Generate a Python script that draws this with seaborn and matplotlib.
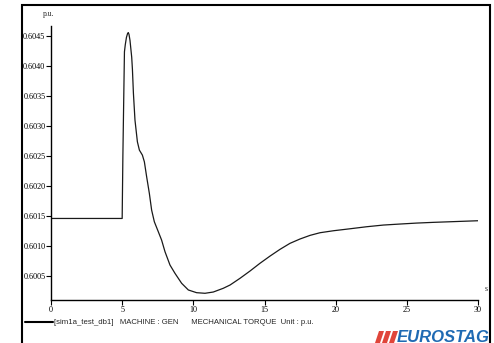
import matplotlib
matplotlib.use("Agg")
import matplotlib.pyplot as plt
import matplotlib.patches as mpatches
import seaborn as sns
import pandas as pd

# values (time in s, torque in p.u.)
time_s = [0, 5.0, 5.05, 5.1, 5.16, 5.22, 5.3, 5.38, 5.43, 5.48, 5.55, 5.67,
          5.72, 5.79, 5.9, 6.07, 6.21, 6.42, 6.56, 6.72, 6.91, 7.07, 7.26,
          7.54, 7.77, 8.01, 8.36, 8.71, 9.18, 9.65, 10.23, 10.82, 11.4, 12.1,
          12.58, 13.28, 13.98, 14.68, 15.39, 16.09, 16.79, 17.49, 18.2, 18.9,
          19.84, 21.01, 22.18, 23.35, 24.52, 25.69, 26.86, 28.03, 30]
torque = [0.60146, 0.60146, 0.60250, 0.60330, 0.60424, 0.60436, 0.60448,
          0.604545, 0.60456, 0.60453, 0.60443, 0.60415, 0.60395, 0.60355,
          0.60310, 0.602738, 0.60260, 0.602517, 0.602405, 0.602155, 0.601878,
          0.60160, 0.601405, 0.601238, 0.60110, 0.600905, 0.600683, 0.600545,
          0.600378, 0.600267, 0.600222, 0.600212, 0.600233, 0.600295,
          0.60035, 0.600462, 0.600583, 0.600712, 0.600833, 0.600945,
          0.601045, 0.601117, 0.601178, 0.601222, 0.601255, 0.601288,
          0.601322, 0.60135, 0.601367, 0.601383, 0.601395, 0.601405, 0.601422]
yticks = [0.6005, 0.6010, 0.6015, 0.6020, 0.6025, 0.6030, 0.6035, 0.6040, 0.6045]
xticks = [0, 5, 10, 15, 20, 25, 30]

df = pd.DataFrame({"t": time_s, "v": torque})

sns.set_style("white")
plt.rcParams["font.family"] = ["Liberation Serif", "DejaVu Serif"]

W, H = 494, 343
fig = plt.figure(figsize=(W / 100, H / 100), dpi=100)
ax = fig.add_axes([51 / W, 1 - 300 / H, 427 / W, 274 / H])

sns.lineplot(data=df, x="t", y="v", ax=ax, color="#1a1a1a", linewidth=0.9,
             sort=False, estimator=None)

ax.set_xlim(0, 30)
ax.set_ylim(0.60010, 0.60467)
ax.set_xticks(xticks)
ax.set_xticklabels([str(x) for x in xticks])
ax.set_yticks(yticks)
ax.set_yticklabels([f"{y:.4f}" for y in yticks])
ax.set_xlabel("")
ax.set_ylabel("")
ax.tick_params(axis="both", labelsize=5.9, length=3.5, width=0.8, pad=0.5,
               colors="black", direction="out")
ax.tick_params(left=True, bottom=True)
for side in ["top", "right"]:
    ax.spines[side].set_visible(False)
for side in ["left", "bottom"]:
    ax.spines[side].set_color("black")
    ax.spines[side].set_linewidth(1.0)

fig.text(43 / W, 1 - 14 / H, "p.u.", fontsize=5.5, ha="left", va="center")
fig.text(485 / W, 1 - 289 / H, "s", fontsize=5.5, ha="left", va="center")

# outer frame (open at the bottom)
fig.add_artist(mpatches.Rectangle((22 / W, -0.1), 468 / W, 1.1 - 5 / H,
                                  transform=fig.transFigure, fill=False,
                                  edgecolor="black", linewidth=1.5))

# legend line
fig.add_artist(plt.Line2D([25 / W, 53 / W], [1 - 322 / H, 1 - 322 / H],
                          color="black", linewidth=1.5, transform=fig.transFigure))
fig.text(54 / W, 1 - 322 / H,
         "[sim1a_test_db1]   MACHINE : GEN      MECHANICAL TORQUE  Unit : p.u.",
         fontsize=5.6, family="Liberation Sans", ha="left", va="center")

# logo
for i in range(3):
    x0 = 375 + i * 7
    pts = [(x0 + 4, 331), (x0 + 9, 331), (x0 + 5, 343), (x0, 343)]
    fig.add_artist(mpatches.Polygon([(px / W, 1 - py / H) for px, py in pts],
                                    closed=True, transform=fig.transFigure,
                                    color="#e0453a", linewidth=0))
fig.text(397 / W, 1 - 337 / H, "EUROSTAG", fontsize=12, family="Liberation Sans",
         weight="bold", style="italic", color="#1f6ab3", ha="left", va="center")

fig.savefig("out.png", dpi=100)
